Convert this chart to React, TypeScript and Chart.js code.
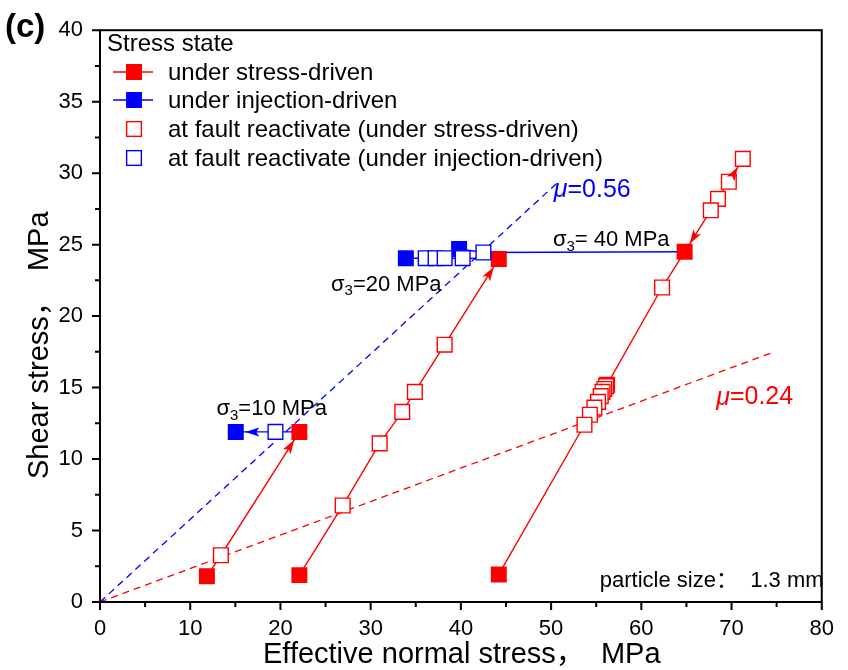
import React, { useEffect, useRef } from "react";
import { Chart, registerables } from "chart.js";

Chart.register(...registerables);

const FONT = "Arial, 'Liberation Sans', sans-serif";
const CJK_FONT = "Arial, 'Liberation Sans', 'Noto Sans CJK SC', sans-serif";

const RED = "#ff0000";
const BLUE = "#0000ff";

// axis ticks
const xMajorTicks = [0, 10, 20, 30, 40, 50, 60, 70, 80];
const xMinorTicks = [5, 15, 25, 35, 45, 55, 65, 75];
const yMajorTicks = [0, 5, 10, 15, 20, 25, 30, 35, 40];
const yMinorTicks = [2.5, 7.5, 12.5, 17.5, 22.5, 27.5, 32.5, 37.5];

// sigma3 = 10 MPa, stress-driven path (F = stress state, O = fault reactivation)
const s10StressX = [11.85, 13.4, 22.1];
const s10StressY = [1.8, 3.27, 11.9];
const s10StressKind = ["F", "O", "F"];

// sigma3 = 20 MPa, stress-driven path
const s20StressX = [22.1, 26.9, 31.0, 33.5, 34.9, 38.2, 44.2];
const s20StressY = [1.88, 6.75, 11.1, 13.3, 14.7, 18.0, 24.0];
const s20StressKind = ["F", "O", "O", "O", "O", "O", "F"];

// sigma3 = 40 MPa, stress-driven path
const s40StressX = [44.2, 53.7, 54.3, 54.8, 55.2, 55.5, 55.7, 55.9, 56.1, 56.2, 62.3, 64.8, 67.7, 68.5, 69.7, 71.25];
const s40StressY = [1.93, 12.4, 13.1, 13.6, 14.0, 14.4, 14.7, 14.9, 15.1, 15.2, 22.0, 24.5, 27.4, 28.2, 29.4, 31.0];
const s40StressKind = ["F", "O", "O", "O", "O", "O", "O", "O", "O", "O", "O", "F", "O", "O", "O", "O"];

// sigma3 = 10 MPa, injection-driven path
const s10InjX = [22.1, 19.45, 15.05];
const s10InjY = [11.9, 11.9, 11.9];
const s10InjKind = ["-", "O", "F"];

// sigma3 = 20 MPa, injection-driven path
const s20InjX = [44.2, 40.2, 38.2, 37.2, 36.1, 33.9];
const s20InjY = [24.0, 24.05, 24.05, 24.05, 24.05, 24.05];
const s20InjKind = ["-", "O", "O", "O", "O", "F"];

// sigma3 = 40 MPa, injection-driven path
const s40InjX = [64.8, 42.5, 39.8];
const s40InjY = [24.5, 24.45, 24.7];
const s40InjKind = ["-", "O", "F"];

// friction lines
const muHighX = [0, 51];
const muHighY = [0, 29.5];
const muLowX = [0, 74.3];
const muLowY = [0, 17.4];

type Path = {
  xs: number[];
  ys: number[];
  kinds: string[];
  color: string;
  arrows: [number, number][]; // [from index, to index]
};

const paths: Path[] = [
  { xs: s10StressX, ys: s10StressY, kinds: s10StressKind, color: RED, arrows: [[1, 2]] },
  { xs: s20StressX, ys: s20StressY, kinds: s20StressKind, color: RED, arrows: [[5, 6]] },
  { xs: s40StressX, ys: s40StressY, kinds: s40StressKind, color: RED, arrows: [[12, 11], [14, 15]] },
  { xs: s10InjX, ys: s10InjY, kinds: s10InjKind, color: BLUE, arrows: [[1, 2]] },
  { xs: s20InjX, ys: s20InjY, kinds: s20InjKind, color: BLUE, arrows: [] },
  { xs: s40InjX, ys: s40InjY, kinds: s40InjKind, color: BLUE, arrows: [] },
];

const FILLED_R = 11.3;
const OPEN_R = 10.4;

function buildDatasets() {
  const filledRed: { x: number; y: number }[] = [];
  const filledBlue: { x: number; y: number }[] = [];
  const openRed: { x: number; y: number }[] = [];
  const openBlue: { x: number; y: number }[] = [];
  const ds: any[] = [];
  paths.forEach((p) => {
    ds.push({
      data: p.xs.map((x, i) => ({ x, y: p.ys[i] })),
      showLine: true,
      pointRadius: 0,
      borderColor: p.color,
      borderWidth: 1.4,
      order: 10,
    });
    p.xs.forEach((x, i) => {
      const pt = { x, y: p.ys[i] };
      const k = p.kinds[i];
      if (k === "F") (p.color === RED ? filledRed : filledBlue).push(pt);
      if (k === "O") (p.color === RED ? openRed : openBlue).push(pt);
    });
  });
  openRed.sort((a, b) => b.y - a.y);
  openBlue.sort((a, b) => a.x - b.x);
  ds.push({
    data: muHighX.map((x, i) => ({ x, y: muHighY[i] })),
    showLine: true,
    pointRadius: 0,
    borderColor: BLUE,
    borderWidth: 1.3,
    borderDash: [7, 5],
    order: 11,
  });
  ds.push({
    data: muLowX.map((x, i) => ({ x, y: muLowY[i] })),
    showLine: true,
    pointRadius: 0,
    borderColor: RED,
    borderWidth: 1.3,
    borderDash: [7, 5],
    order: 11,
  });
  const marker = (data: any[], color: string, filled: boolean, order: number) => ({
    data,
    showLine: false,
    pointStyle: "rect",
    pointRadius: filled ? FILLED_R : OPEN_R,
    pointBackgroundColor: filled ? color : "#ffffff",
    pointBorderColor: color,
    pointBorderWidth: filled ? 0 : 1.4,
    order,
  });
  ds.push(marker(filledRed, RED, true, 4));
  ds.push(marker(filledBlue, BLUE, true, 3));
  ds.push(marker(openRed, RED, false, 2));
  ds.push(marker(openBlue, BLUE, false, 1));
  return ds;
}

function drawSigma(ctx: CanvasRenderingContext2D, x: number, y: number, rest: string, size: number) {
  ctx.save();
  ctx.fillStyle = "#000";
  ctx.textBaseline = "middle";
  ctx.textAlign = "left";
  ctx.font = `${size}px ${FONT}`;
  ctx.fillText("σ", x, y);
  let w = ctx.measureText("σ").width;
  ctx.font = `${Math.round(size * 0.7)}px ${FONT}`;
  ctx.fillText("3", x + w, y + size * 0.3);
  w += ctx.measureText("3").width;
  ctx.font = `${size}px ${FONT}`;
  ctx.fillText(rest, x + w, y);
  ctx.restore();
}

function drawMu(ctx: CanvasRenderingContext2D, x: number, y: number, rest: string, color: string, size: number) {
  ctx.save();
  ctx.fillStyle = color;
  ctx.textBaseline = "middle";
  ctx.textAlign = "left";
  ctx.font = `italic ${size}px ${FONT}`;
  ctx.fillText("μ", x, y);
  const w = ctx.measureText("μ").width;
  ctx.font = `${size}px ${FONT}`;
  ctx.fillText(rest, x + w, y);
  ctx.restore();
}

function rectMarker(ctx: CanvasRenderingContext2D, cx: number, cy: number, color: string, filled: boolean) {
  const h = (filled ? FILLED_R : OPEN_R) * Math.SQRT1_2;
  ctx.save();
  if (filled) {
    ctx.fillStyle = color;
    ctx.fillRect(cx - h, cy - h, 2 * h, 2 * h);
  } else {
    ctx.fillStyle = "#fff";
    ctx.fillRect(cx - h, cy - h, 2 * h, 2 * h);
    ctx.strokeStyle = color;
    ctx.lineWidth = 1.4;
    ctx.strokeRect(cx - h, cy - h, 2 * h, 2 * h);
  }
  ctx.restore();
}

const decorPlugin = {
  id: "decor",
  afterDatasetsDraw(chart: any) {
    const ctx: CanvasRenderingContext2D = chart.ctx;
    const xs = chart.scales.x;
    const ys = chart.scales.y;
    const area = chart.chartArea;

    // arrows
    paths.forEach((p) => {
      p.arrows.forEach(([a, b]) => {
        const x0 = xs.getPixelForValue(p.xs[a]);
        const y0 = ys.getPixelForValue(p.ys[a]);
        const x1 = xs.getPixelForValue(p.xs[b]);
        const y1 = ys.getPixelForValue(p.ys[b]);
        const dx = x1 - x0;
        const dy = y1 - y0;
        const len = Math.hypot(dx, dy);
        const ux = dx / len;
        const uy = dy / len;
        const back = 9.5;
        const L = 14;
        const W = 4.5;
        const tx = x1 - ux * back;
        const ty = y1 - uy * back;
        const bx = tx - ux * L;
        const by = ty - uy * L;
        ctx.save();
        ctx.fillStyle = p.color;
        ctx.beginPath();
        ctx.moveTo(tx, ty);
        ctx.lineTo(bx - uy * W, by + ux * W);
        ctx.lineTo(bx + ux * 3, by + uy * 3);
        ctx.lineTo(bx + uy * W, by - ux * W);
        ctx.closePath();
        ctx.fill();
        ctx.restore();
      });
    });

    // frame
    ctx.save();
    ctx.strokeStyle = "#000";
    ctx.lineWidth = 2;
    ctx.strokeRect(area.left, area.top, area.right - area.left, area.bottom - area.top);
    // ticks
    ctx.lineWidth = 2;
    ctx.beginPath();
    xMajorTicks.forEach((v) => {
      const px = xs.getPixelForValue(v);
      ctx.moveTo(px, area.bottom);
      ctx.lineTo(px, area.bottom + 8);
    });
    xMinorTicks.forEach((v) => {
      const px = xs.getPixelForValue(v);
      ctx.moveTo(px, area.bottom);
      ctx.lineTo(px, area.bottom + 5);
    });
    yMajorTicks.forEach((v) => {
      const py = ys.getPixelForValue(v);
      ctx.moveTo(area.left, py);
      ctx.lineTo(area.left - 8, py);
    });
    yMinorTicks.forEach((v) => {
      const py = ys.getPixelForValue(v);
      ctx.moveTo(area.left, py);
      ctx.lineTo(area.left - 5, py);
    });
    ctx.stroke();
    ctx.restore();

    // annotations
    drawMu(ctx, xs.getPixelForValue(50.3), ys.getPixelForValue(28.8), "=0.56", BLUE, 25);
    drawMu(ctx, xs.getPixelForValue(68.3), ys.getPixelForValue(14.3), "=0.24", RED, 25);
    drawSigma(ctx, xs.getPixelForValue(50.2), ys.getPixelForValue(25.3), "= 40 MPa", 22);
    drawSigma(ctx, xs.getPixelForValue(25.6), ys.getPixelForValue(22.2), "=20 MPa", 22);
    drawSigma(ctx, xs.getPixelForValue(12.9), ys.getPixelForValue(13.5), "=10 MPa", 22);

    ctx.save();
    ctx.fillStyle = "#000";
    ctx.textBaseline = "middle";
    ctx.textAlign = "left";
    ctx.font = `22px ${CJK_FONT}`;
    ctx.fillText("particle size：  1.3 mm", xs.getPixelForValue(55.4), ys.getPixelForValue(1.5));

    // panel label
    ctx.font = `bold 33px ${FONT}`;
    ctx.fillText("(c)", 5, 28);

    // axis titles
    ctx.font = `29px ${CJK_FONT}`;
    ctx.textBaseline = "middle";
    ctx.fillText("Effective normal stress，  MPa", 263, 655);
    ctx.save();
    ctx.translate(40, 479);
    ctx.rotate(-Math.PI / 2);
    ctx.fillText("Shear stress，  MPa", 0, 0);
    ctx.restore();

    // legend
    ctx.font = `24px ${FONT}`;
    ctx.fillText("Stress state", 107, 44);
    const rows = [
      { y: 72, color: RED, filled: true, line: true, text: "under stress-driven" },
      { y: 100, color: BLUE, filled: true, line: true, text: "under injection-driven" },
      { y: 129, color: RED, filled: false, line: false, text: "at fault reactivate (under stress-driven)" },
      { y: 158, color: BLUE, filled: false, line: false, text: "at fault reactivate (under injection-driven)" },
    ];
    rows.forEach((r) => {
      if (r.line) {
        ctx.save();
        ctx.strokeStyle = r.color;
        ctx.lineWidth = 1.4;
        ctx.beginPath();
        ctx.moveTo(113, r.y);
        ctx.lineTo(153, r.y);
        ctx.stroke();
        ctx.restore();
      }
      rectMarker(ctx, 134, r.y, r.color, r.filled);
      ctx.fillStyle = "#000";
      ctx.fillText(r.text, 168, r.y + 1);
    });
    ctx.restore();
  },
};

export default function App() {
  const ref = useRef<HTMLCanvasElement | null>(null);
  useEffect(() => {
    if (!ref.current) return;
    const chart = new Chart(ref.current, {
      type: "scatter",
      data: { datasets: buildDatasets() },
      options: {
        responsive: false,
        animation: false,
        events: [],
        layout: { padding: { left: 0, right: 20, top: 26, bottom: 0 } },
        plugins: { legend: { display: false }, tooltip: { enabled: false }, title: { display: false } },
        scales: {
          x: {
            type: "linear",
            min: 0,
            max: 80,
            afterBuildTicks: (s: any) => {
              s.ticks = xMajorTicks.map((v) => ({ value: v }));
            },
            afterFit: (s: any) => {
              s.height = 68;
            },
            grid: { display: false, drawTicks: false },
            border: { display: false },
            ticks: { color: "#000", font: { family: FONT, size: 22 }, padding: 14, maxRotation: 0, autoSkip: false },
          },
          y: {
            type: "linear",
            min: 0,
            max: 40,
            afterBuildTicks: (s: any) => {
              s.ticks = yMajorTicks.map((v) => ({ value: v }));
            },
            afterFit: (s: any) => {
              s.width = 100;
            },
            grid: { display: false, drawTicks: false },
            border: { display: false },
            ticks: { color: "#000", font: { family: FONT, size: 22 }, padding: 17, autoSkip: false },
          },
        },
      },
      plugins: [decorPlugin],
    });
    return () => chart.destroy();
  }, []);
  return (
    <div style={{ position: "absolute", left: 0, top: 0, width: 848, height: 670, background: "#fff" }}>
      <canvas ref={ref} width={848} height={670} style={{ display: "block" }} />
    </div>
  );
}
